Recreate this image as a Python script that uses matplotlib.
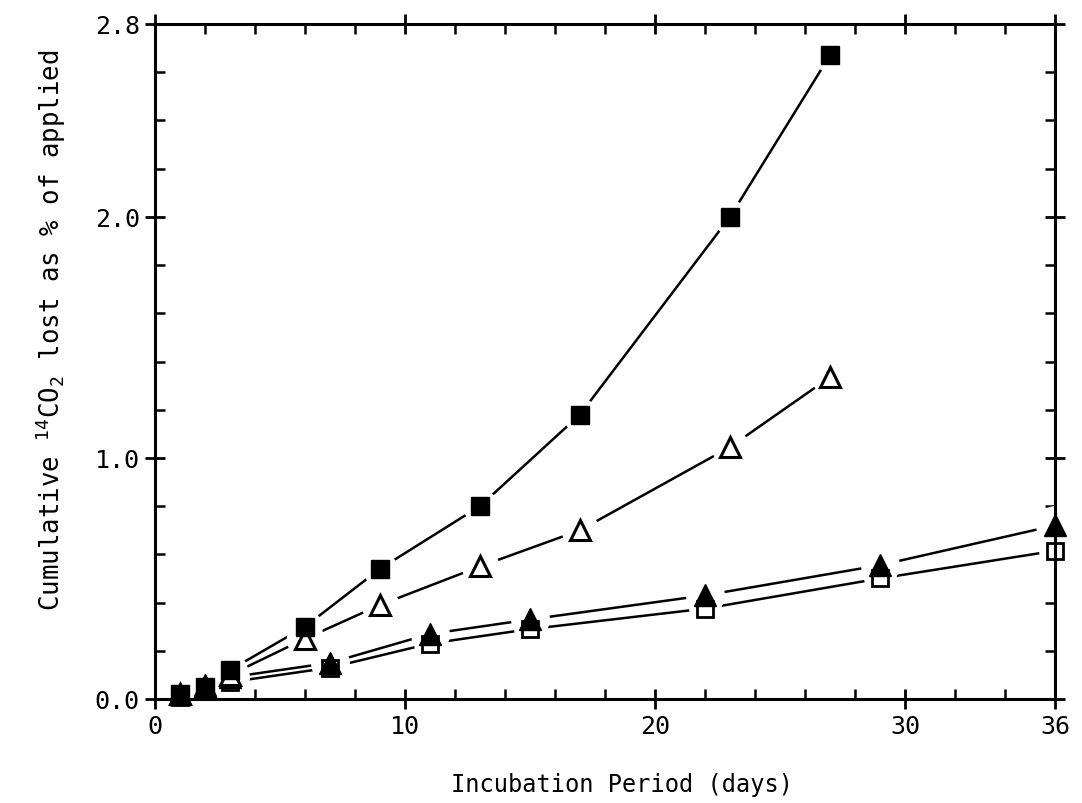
import matplotlib
matplotlib.use("Agg")
import matplotlib.pyplot as plt
from matplotlib.ticker import MultipleLocator, FixedLocator

# ---- data ----
x_a = [1, 2, 3, 6, 9, 13, 17, 23, 27]
sq_filled = [0.02, 0.05, 0.12, 0.30, 0.54, 0.80, 1.18, 2.00, 2.67]
tri_open = [0.02, 0.05, 0.10, 0.25, 0.39, 0.55, 0.70, 1.045, 1.335]

x_b = [1, 2, 3, 7, 11, 15, 22, 29, 36]
tri_filled = [0.02, 0.06, 0.09, 0.15, 0.27, 0.33, 0.43, 0.555, 0.72]
sq_open = [0.01, 0.04, 0.07, 0.13, 0.23, 0.29, 0.375, 0.50, 0.615]

x_major = [0, 10, 20, 30, 36]
x_major_labels = ["0", "10", "20", "30", "36"]
y_major = [0.0, 1.0, 2.0, 2.8]
y_major_labels = ["0.0", "1.0", "2.0", "2.8"]

xlabel = "Incubation Period (days)"
ylabel = r"Cumulative $^{14}$CO$_2$ lost as % of applied"

plt.rcParams['font.family'] = ['DejaVu Sans Mono', 'DejaVu Sans']
plt.rcParams['mathtext.fontset'] = 'custom'
plt.rcParams['mathtext.rm'] = 'DejaVu Sans Mono'
plt.rcParams['mathtext.it'] = 'DejaVu Sans Mono'

fig = plt.figure(figsize=(10.82, 8.04), dpi=100)
ax = fig.add_axes([155/1082, 104/804, 900/1082, 675/804])

series = [
    (x_b, sq_open, 's', 11.5, 'white', 'black', 2.0),
    (x_b, tri_filled, '^', 16, 'black', 'black', 1.0),
    (x_a, tri_open, '^', 15, 'white', 'black', 2.2),
    (x_a, sq_filled, 's', 13, 'black', 'black', 1.0),
]

# lines
for xs, ys, m, ms, fc, ec, mew in series:
    ax.plot(xs, ys, '-', color='black', lw=1.8, zorder=2, clip_on=False)
# white halos to create the gaps between lines and markers
for xs, ys, m, ms, fc, ec, mew in series:
    ax.plot(xs, ys, linestyle='none', marker='o', ms=ms + 12, mfc='white',
            mec='white', mew=0, zorder=3, clip_on=False)
# markers
for xs, ys, m, ms, fc, ec, mew in series:
    ax.plot(xs, ys, linestyle='none', marker=m, ms=ms, mfc=fc, mec=ec,
            mew=mew, zorder=4, clip_on=False)

ax.set_xlim(0, 36)
ax.set_ylim(0, 2.8)

ax.xaxis.set_major_locator(FixedLocator(x_major))
ax.set_xticklabels(x_major_labels)
ax.xaxis.set_minor_locator(MultipleLocator(2))
ax.yaxis.set_major_locator(FixedLocator(y_major))
ax.set_yticklabels(y_major_labels)
ax.yaxis.set_minor_locator(MultipleLocator(0.2))

ax.tick_params(which='major', direction='inout', length=14, width=2,
               top=True, right=True, labelsize=18, pad=4)
ax.tick_params(which='minor', direction='in', length=7, width=1.8,
               top=True, right=True)

for s in ax.spines.values():
    s.set_linewidth(2.2)
    s.set_zorder(5)

ax.set_xlabel(xlabel, fontsize=17)
ax.xaxis.set_label_coords(0.519, -0.108)
ax.set_ylabel(ylabel, fontsize=18.5)
ax.yaxis.set_label_coords(-0.097, 0.547)

fig.savefig("out.png", dpi=100)
